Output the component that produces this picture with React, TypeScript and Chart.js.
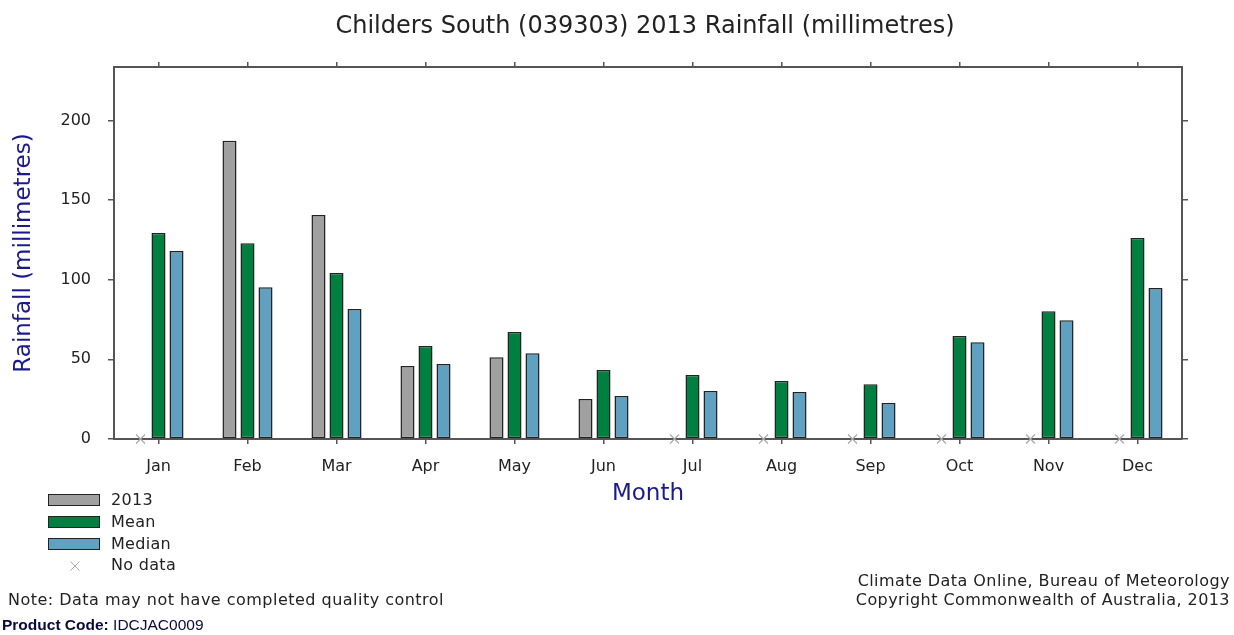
import React, { useEffect, useRef } from "react";
import { Chart, registerables } from "chart.js";

Chart.register(...registerables);

const months = ["Jan", "Feb", "Mar", "Apr", "May", "Jun", "Jul", "Aug", "Sep", "Oct", "Nov", "Dec"];
const rain2013: (number | null)[] = [null, 187.2, 140.6, 45.8, 51.3, 25.1, null, null, null, null, null, null];
const rainMean: number[] = [129.3, 122.8, 104.2, 58.4, 67.1, 43.3, 40.2, 36.4, 34.3, 64.6, 80.2, 126.1];
const rainMedian: number[] = [118.0, 95.3, 81.6, 47.1, 53.8, 27.0, 30.1, 29.5, 22.6, 60.7, 74.5, 94.8];
const yTicks: number[] = [0, 50, 100, 150, 200];

const FONT = "'DejaVu Sans', Verdana, sans-serif";
const TEXT = "#222222";
const AXIS = "#555555";
const NAVY = "#1a1a8c";

const noDataPlugin = {
  id: "noDataMarks",
  afterDatasetsDraw(chart: any) {
    const meta = chart.getDatasetMeta(0);
    const ys = chart.scales.y;
    const xs = chart.scales.x;
    const ctx = chart.ctx;
    ctx.save();
    ctx.strokeStyle = "#a8a8a8";
    ctx.lineWidth = 1.2;
    rain2013.forEach((v, i) => {
      if (v !== null) return;
      const el = meta.data[i];
      const x = el && isFinite(el.x) ? el.x : xs.getPixelForValue(i) - 18;
      const y = ys.getPixelForValue(0);
      const r = 4.5;
      ctx.beginPath();
      ctx.moveTo(x - r, y - r);
      ctx.lineTo(x + r, y + r);
      ctx.moveTo(x - r, y + r);
      ctx.lineTo(x + r, y - r);
      ctx.stroke();
    });
    ctx.restore();
  },
};

function ChartCanvas() {
  const ref = useRef<HTMLCanvasElement | null>(null);
  useEffect(() => {
    if (!ref.current) return;
    const barCommon = {
      borderColor: "#222222",
      borderWidth: 1.5,
      borderSkipped: false as const,
      categoryPercentage: 0.607,
      barPercentage: 0.78,
    };
    const chart = new Chart(ref.current, {
      type: "bar",
      data: {
        labels: months,
        datasets: [
          { label: "2013", data: rain2013, backgroundColor: "#a0a0a0", ...barCommon },
          { label: "Mean", data: rainMean, backgroundColor: "#008040", ...barCommon },
          { label: "Median", data: rainMedian, backgroundColor: "#60a0c0", ...barCommon },
        ],
      },
      options: {
        animation: false,
        responsive: false,
        maintainAspectRatio: false,
        devicePixelRatio: 1,
        layout: { padding: { top: 67, left: 0, right: 0, bottom: 0 } },
        plugins: {
          legend: { display: false },
          tooltip: { enabled: false },
          title: { display: false },
        },
        scales: {
          x: {
            type: "category",
            position: "bottom",
            offset: true,
            grid: { display: true, drawOnChartArea: false, drawTicks: true, tickLength: 5, offset: false, color: AXIS, lineWidth: 1.5 },
            border: { display: true, color: AXIS, width: 2 },
            ticks: { color: TEXT, font: { family: FONT, size: 16 }, padding: 13, maxRotation: 0, autoSkip: false },
            title: {
              display: true,
              text: "Month",
              color: NAVY,
              font: { family: FONT, size: 23, weight: "normal" },
              padding: { top: 0, bottom: 127 },
            },
            afterFit: (s: any) => { s.height = 196; },
          },
          x2: {
            type: "category",
            position: "top",
            offset: true,
            labels: months,
            grid: { display: true, drawOnChartArea: false, drawTicks: true, tickLength: 5, offset: false, color: AXIS, lineWidth: 1.5 },
            border: { display: true, color: AXIS, width: 2 },
            ticks: { display: false },
            afterFit: (s: any) => { s.height = 0; },
          },
          y: {
            type: "linear",
            position: "left",
            min: 0,
            max: 233.5,
            afterBuildTicks: (s: any) => { s.ticks = yTicks.map((v) => ({ value: v })); },
            grid: { display: true, drawOnChartArea: false, drawTicks: true, tickLength: 6, color: AXIS, lineWidth: 1.5 },
            border: { display: true, color: AXIS, width: 2 },
            ticks: { color: TEXT, font: { family: FONT, size: 16 }, padding: 17, includeBounds: false },
            title: {
              display: true,
              text: "Rainfall (millimetres)",
              color: NAVY,
              font: { family: FONT, size: 23, weight: "normal" },
              padding: { top: 10, bottom: 0 },
            },
            afterFit: (s: any) => { s.width = 114; },
          },
          y2: {
            type: "linear",
            position: "right",
            min: 0,
            max: 233.5,
            afterBuildTicks: (s: any) => { s.ticks = yTicks.map((v) => ({ value: v })); },
            grid: { display: true, drawOnChartArea: false, drawTicks: true, tickLength: 6, color: AXIS, lineWidth: 1.5 },
            border: { display: true, color: AXIS, width: 2 },
            ticks: { display: false },
            afterFit: (s: any) => { s.width = 52; },
          },
        },
      },
      plugins: [noDataPlugin],
    } as any);
    return () => chart.destroy();
  }, []);
  return <canvas ref={ref} width={1234} height={635} style={{ position: "absolute", left: 0, top: 0, width: 1234, height: 635 }} />;
}

const legendItems = [
  { label: "2013", color: "#a0a0a0", top: 494 },
  { label: "Mean", color: "#008040", top: 516 },
  { label: "Median", color: "#60a0c0", top: 538 },
];

export default function App() {
  const textBase: React.CSSProperties = { position: "absolute", fontFamily: FONT, fontSize: 16, color: TEXT, whiteSpace: "nowrap", lineHeight: "20px" };
  return (
    <div style={{ position: "absolute", left: 0, top: 0, width: 1234, height: 635, background: "#ffffff", overflow: "hidden" }}>
      <ChartCanvas />
      <div style={{ ...textBase, left: 145, width: 1000, top: 10, fontSize: 24, lineHeight: "30px", textAlign: "center" }}>
        Childers South (039303) 2013 Rainfall (millimetres)
      </div>
      {legendItems.map((it) => (
        <React.Fragment key={it.label}>
          <div style={{ position: "absolute", left: 48, top: it.top, width: 52, height: 12, boxSizing: "border-box", border: "1.5px solid #222", background: it.color }} />
          <div style={{ ...textBase, left: 111, top: it.top - 4, letterSpacing: 0.3 }}>{it.label}</div>
        </React.Fragment>
      ))}
      <svg style={{ position: "absolute", left: 69, top: 560 }} width={12} height={12}>
        <line x1={1.5} y1={1.5} x2={10.5} y2={10.5} stroke="#a8a8a8" strokeWidth={1} />
        <line x1={1.5} y1={10.5} x2={10.5} y2={1.5} stroke="#a8a8a8" strokeWidth={1} />
      </svg>
      <div style={{ ...textBase, left: 111, top: 555, letterSpacing: 0.3 }}>No data</div>
      <div style={{ ...textBase, left: 8, top: 590, letterSpacing: 0.48 }}>Note: Data may not have completed quality control</div>
      <div style={{ ...textBase, right: 4, top: 571, textAlign: "right", letterSpacing: 0.44 }}>Climate Data Online, Bureau of Meteorology</div>
      <div style={{ ...textBase, right: 4, top: 590, textAlign: "right", letterSpacing: 0.44 }}>Copyright Commonwealth of Australia, 2013</div>
      <div style={{ position: "absolute", left: 2, top: 616, fontFamily: "'Liberation Sans', Arial, sans-serif", fontSize: 15.5, color: "#0b0b3b", whiteSpace: "nowrap", lineHeight: "18px" }}>
        <b>Product Code:</b> IDCJAC0009
      </div>
    </div>
  );
}
